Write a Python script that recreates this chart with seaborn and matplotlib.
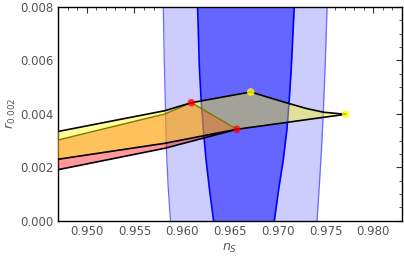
import numpy as np
import pandas as pd
import matplotlib
matplotlib.use("Agg")
import matplotlib.pyplot as plt
from matplotlib.ticker import MultipleLocator, FormatStrFormatter
import seaborn as sns

# ---- data ----
# observational bands: r grid with left/right n_s edges
band_r = [0.0, 0.00133, 0.00265, 0.004, 0.006, 0.008]
band2_left = [0.95877, 0.95852, 0.95835, 0.95826, 0.95812, 0.95802]
band2_right = [0.97411, 0.97435, 0.97457, 0.97476, 0.97498, 0.97516]
band1_r = [0.0, 0.00115, 0.00227, 0.0034, 0.00452, 0.0057, 0.008]
band1_left = [0.96328, 0.96286, 0.96250, 0.96221, 0.96198, 0.96180, 0.96161]
band1_right = [0.96964, 0.97008, 0.97057, 0.97095, 0.97120, 0.97141, 0.97172]

# model region "yellow"
yel_top_ns = [0.9470, 0.95818, 0.96096, 0.96717, 0.96877, 0.97109, 0.97300, 0.97484, 0.97710]
yel_top_r = [0.003340, 0.004118, 0.004418, 0.004819, 0.004643, 0.004395, 0.004200, 0.004058, 0.003984]
yel_bot_ns = [0.97710, 0.96571, 0.95818, 0.9470]
yel_bot_r = [0.003984, 0.003422, 0.002898, 0.002299]

# model region "red"
red_top_ns = [0.9470, 0.95818, 0.96096]
red_top_r = [0.003021, 0.003995, 0.004418]
red_side_ns = [0.96096, 0.96571]
red_side_r = [0.004418, 0.003422]
red_bot_ns = [0.96571, 0.95818, 0.9470]
red_bot_r = [0.003422, 0.002711, 0.001909]

red_pts_ns = [0.96096, 0.96571]
red_pts_r = [0.004418, 0.003422]
yel_pts_ns = [0.96717, 0.97710]
yel_pts_r = [0.004819, 0.003984]

xticks = [0.950, 0.955, 0.960, 0.965, 0.970, 0.975, 0.980]
yticks = [0.000, 0.002, 0.004, 0.006, 0.008]

sns.set_theme(style="white")
plt.rcParams['font.family'] = ['DejaVu Sans']

fig = plt.figure(figsize=(4.04, 2.60), dpi=100)
ax = fig.add_axes([58/404, 1-220.7/260, (402-58)/404, (220.7-7)/260])

# bands
ax.fill_betweenx(band_r, band2_left, band2_right, color="#CCCCFF", lw=0, zorder=1)
for xs in (band2_left, band2_right):
    sns.lineplot(x=xs, y=band_r, sort=False, estimator=None, color="#6A6AFF",
                 lw=0.9, ax=ax, zorder=1.5)
ax.fill_betweenx(band1_r, band1_left, band1_right, color="#0000FF", alpha=0.5, lw=0, zorder=2)
for xs in (band1_left, band1_right):
    sns.lineplot(x=xs, y=band1_r, sort=False, estimator=None, color="#0000FF",
                 lw=1.2, ax=ax, zorder=2.5)

# red region
red_poly_x = red_top_ns + red_side_ns[1:] + red_bot_ns[1:]
red_poly_y = red_top_r + red_side_r[1:] + red_bot_r[1:]
ax.fill(red_poly_x, red_poly_y, color="#FF0000", alpha=0.4, lw=0, zorder=3)

# yellow region
yel_poly_x = yel_top_ns + yel_bot_ns[1:]
yel_poly_y = yel_top_r + yel_bot_r[1:]
ax.fill(yel_poly_x, yel_poly_y, color="#FFFF00", alpha=0.4, lw=0, zorder=4)

# outlines
sns.lineplot(x=red_top_ns, y=red_top_r, sort=False, estimator=None, color="#7A7A00", lw=1.0, ax=ax, zorder=5)
sns.lineplot(x=red_side_ns, y=red_side_r, sort=False, estimator=None, color="#7A7A00", lw=1.0, ax=ax, zorder=5)
sns.lineplot(x=red_bot_ns, y=red_bot_r, sort=False, estimator=None, color="black", lw=1.2, ax=ax, zorder=6)
sns.lineplot(x=yel_top_ns, y=yel_top_r, sort=False, estimator=None, color="black", lw=1.2, ax=ax, zorder=6)
sns.lineplot(x=yel_bot_ns, y=yel_bot_r, sort=False, estimator=None, color="black", lw=1.2, ax=ax, zorder=6)

# points
sns.scatterplot(x=red_pts_ns, y=red_pts_r, color="#FF0000", alpha=0.75, s=30, edgecolor="none", ax=ax, zorder=7)
sns.scatterplot(x=yel_pts_ns, y=yel_pts_r, color="#FFFF00", alpha=0.8, s=30, edgecolor="none", ax=ax, zorder=7)

ax.set_xlim(0.947, 0.983)
ax.set_ylim(0.0, 0.008)
ax.set_xticks(xticks)
ax.set_yticks(yticks)
ax.xaxis.set_minor_locator(MultipleLocator(0.001))
ax.yaxis.set_minor_locator(MultipleLocator(0.0005))
ax.xaxis.set_major_formatter(FormatStrFormatter('%.3f'))
ax.yaxis.set_major_formatter(FormatStrFormatter('%.3f'))
ax.tick_params(which='both', direction='in', top=True, right=True, color='#333333',
               labelcolor='#555555', labelsize=8.5)
ax.tick_params(which='major', length=4, width=0.8, pad=3)
ax.tick_params(which='minor', length=2, width=0.6)
for sp in ax.spines.values():
    sp.set_color('black')
    sp.set_linewidth(1.0)
ax.set_xlabel(r'$n_S$', color='#555555', fontsize=9, labelpad=3)
ax.set_ylabel(r'$r_{0.002}$', color='#555555', fontsize=9, labelpad=2)

fig.savefig("out.png", dpi=100)
